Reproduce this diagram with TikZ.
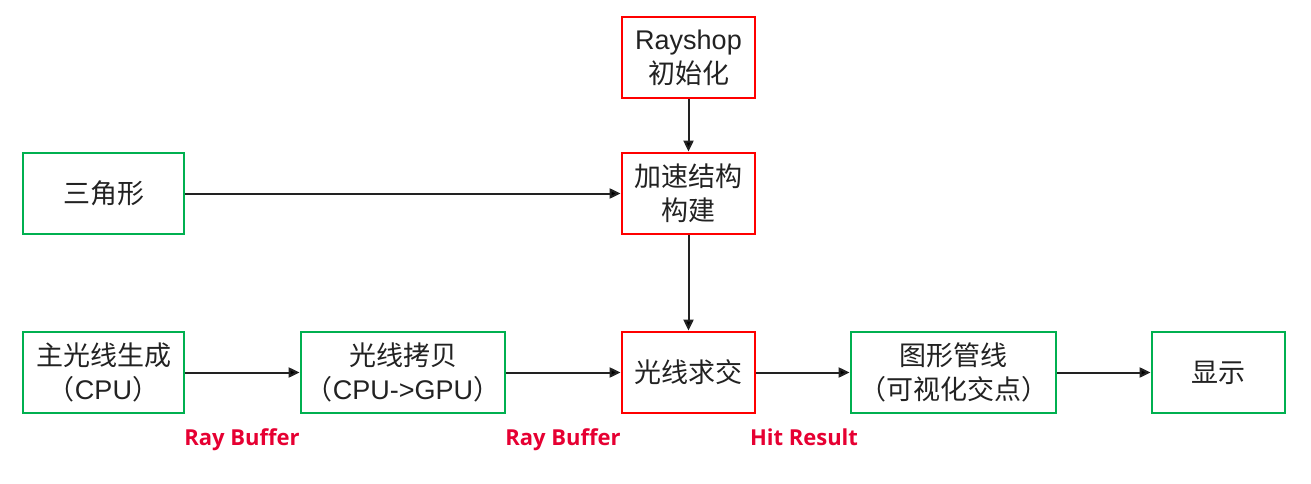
\documentclass[tikz,border=0pt]{standalone}
\usepackage{fontspec}
\setmainfont{Liberation Sans}
\newfontfamily\cjk{Noto Sans CJK SC}
\newfontfamily\lblfont{Open Sans}
\usepackage{tikz}
\usetikzlibrary{arrows.meta}
\definecolor{boxred}{RGB}{255,0,0}
\definecolor{boxgreen}{RGB}{0,176,80}
\definecolor{lblred}{RGB}{230,0,50}
\definecolor{txtgray}{RGB}{34,34,34}

\begin{document}
\begin{tikzpicture}[x=1pt, y=-1pt]
\tikzstyle{box}=[draw, line width=2.8pt, minimum height=81pt, inner sep=0pt, align=center, text=txtgray, font=\fontsize{27}{34}\selectfont]
\tikzstyle{redbox}=[box, draw=boxred]
\tikzstyle{greenbox}=[box, draw=boxgreen]
\tikzstyle{lbl}=[anchor=base, text=lblred, font=\lblfont\bfseries\fontsize{22}{24}\selectfont]
\tikzstyle{flow}=[draw=txtgray, line width=2pt, -{Triangle[length=11pt, width=10pt]}]
\useasboundingbox (0,0) rectangle (1311,484);

\node[redbox, minimum width=133pt] (init) at (688.5,57.5) {Rayshop\\{\cjk 初始化}};
\node[redbox, minimum width=133pt] (accel) at (688.5,193.5) {{\cjk 加速结构}\\{\cjk 构建}};
\node[greenbox, minimum width=161pt] (tri) at (103.5,193.5) {{\cjk 三角形}};
\node[greenbox, minimum width=161pt] (gen) at (103.5,372.5) {{\cjk 主光线生成}\\{\cjk （}CPU{\cjk ）}};
\node[greenbox, minimum width=204pt] (copy) at (403,372.5) {{\cjk 光线拷贝}\\{\cjk （}CPU->GPU{\cjk ）}};
\node[redbox, minimum width=133pt] (isect) at (688.5,372.5) {{\cjk 光线求交}};
\node[greenbox, minimum width=205pt] (pipe) at (953.5,372.5) {{\cjk 图形管线}\\{\cjk （可视化交点）}};
\node[greenbox, minimum width=133pt] (disp) at (1218.5,372.5) {{\cjk 显示}};

\node[lbl] (buf1) at (242,445) {Ray Buffer};
\node[lbl] (buf2) at (563,445) {Ray Buffer};
\node[lbl] (hit) at (804,445) {Hit Result};

\path[flow]
(init) edge (accel)
(accel) edge (isect)
(tri) edge (accel)
(gen) edge (copy)
(copy) edge (isect)
(isect) edge (pipe)
(pipe) edge (disp);

\end{tikzpicture}
\end{document}
